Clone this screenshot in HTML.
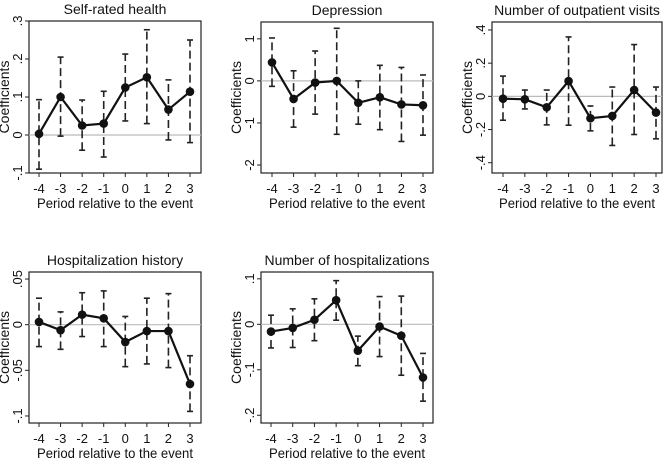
<!DOCTYPE html>
<html><head><meta charset="utf-8"><style>
html,body{margin:0;padding:0;background:#fff;}
svg{display:block;font-family:"Liberation Sans","DejaVu Sans",sans-serif;}
</style></head><body>
<svg id="c" width="669" height="464" viewBox="0 0 669 464"></svg>
<script>
const periods=[-4,-3,-2,-1,0,1,2,3];
const titles=["Self-rated health","Depression","Number of outpatient visits","Hospitalization history","Number of hospitalizations"];
const coefSRH=[0.003,0.1,0.025,0.03,0.125,0.152,0.067,0.114];
const loSRH=[-0.09,-0.003,-0.04,-0.058,0.037,0.03,-0.013,-0.02];
const hiSRH=[0.093,0.205,0.092,0.115,0.213,0.277,0.145,0.25];
const coefDep=[0.44,-0.43,-0.04,0,-0.52,-0.39,-0.56,-0.58];
const loDep=[-0.13,-1.1,-0.79,-1.27,-1.03,-1.16,-1.44,-1.29];
const hiDep=[1.02,0.24,0.71,1.25,0,0.37,0.32,0.14];
const coefOut=[-0.014,-0.018,-0.066,0.092,-0.132,-0.118,0.038,-0.098];
const loOut=[-0.144,-0.076,-0.172,-0.174,-0.208,-0.296,-0.23,-0.256];
const hiOut=[0.122,0.038,0.038,0.358,-0.058,0.056,0.312,0.056];
const coefHH=[0.003,-0.006,0.011,0.007,-0.019,-0.007,-0.007,-0.065];
const loHH=[-0.024,-0.027,-0.013,-0.024,-0.046,-0.043,-0.047,-0.095];
const hiHH=[0.029,0.014,0.035,0.037,0.009,0.029,0.034,-0.034];
const coefNH=[-0.016,-0.008,0.01,0.053,-0.058,-0.005,-0.025,-0.117];
const loNH=[-0.052,-0.051,-0.036,0.009,-0.091,-0.071,-0.112,-0.169];
const hiNH=[0.02,0.034,0.056,0.096,-0.026,0.061,0.062,-0.064];
const ticksSRH=[-0.1,0,0.1,0.2,0.3], tlSRH=["-.1","0",".1",".2",".3"];
const ticksDep=[-2,-1,0,1], tlDep=["-2","-1","0","1"];
const ticksOut=[-0.4,-0.2,0,0.2,0.4], tlOut=["-.4","-.2","0",".2",".4"];
const ticksHH=[-0.1,-0.05,0,0.05], tlHH=["-.1","-.05","0",".05"];
const ticksNH=[-0.2,-0.1,0,0.1], tlNH=["-.2","-.1","0",".1"];

const NS="http://www.w3.org/2000/svg";
const svg=document.getElementById('c');
function mk(tag,attrs,parent){const e=document.createElementNS(NS,tag);for(const k in attrs)e.setAttribute(k,attrs[k]);(parent||svg).appendChild(e);return e;}

const panels=[
 {t:0,box:[29,21,201,173],dom:[-0.1,0.3],x0:39,x1:190,c:coefSRH,lo:loSRH,hi:hiSRH,tk:ticksSRH,tl:tlSRH},
 {t:1,box:[261,22,433,173],dom:[-2.19,1.4],x0:272,x1:423,c:coefDep,lo:loDep,hi:hiDep,tk:ticksDep,tl:tlDep},
 {t:2,box:[492,22,662,173],dom:[-0.462,0.448],x0:503,x1:656,c:coefOut,lo:loOut,hi:hiOut,tk:ticksOut,tl:tlOut},
 {t:3,box:[29,272,201,423],dom:[-0.1077,0.0577],x0:39,x1:190,c:coefHH,lo:loHH,hi:hiHH,tk:ticksHH,tl:tlHH},
 {t:4,box:[261,272,433,423],dom:[-0.217,0.115],x0:271,x1:423,c:coefNH,lo:loNH,hi:hiNH,tk:ticksNH,tl:tlNH}
];
panels.forEach((p)=>{
 const g=mk('g',{});
 
 
 const [L,T,R,B]=p.box;
 const ys=v=>B-(v-p.dom[0])/(p.dom[1]-p.dom[0])*(B-T);
 const xs=i=>p.x0+(p.x1-p.x0)*i/(periods.length-1);
 const cx=(L+R)/2;
 const tt=mk('text',{x:cx,y:T-7,'text-anchor':'middle','font-size':14,fill:'#111'},g);tt.textContent=titles[p.t];
 
 
 mk('rect',{x:L,y:T,width:R-L,height:B-T,fill:'none',stroke:'#222','stroke-width':1.2},g);
 const z=mk('line',{x1:L,x2:R,y1:ys(0),y2:ys(0),stroke:'#bbb','stroke-width':1.2},g);
 
 
 p.tk.forEach((v,i)=>{
  const y=ys(v);
  mk('line',{x1:L-4,x2:L,y1:y,y2:y,stroke:'#222'},g);
  const t=mk('text',{x:L-7,y:y,'text-anchor':'middle','font-size':13,fill:'#111',transform:`rotate(-90 ${L-7} ${y})`},g);
  t.textContent=p.tl[i];
  
  
 });
 const yt=mk('text',{x:L-20,y:(T+B)/2,'text-anchor':'middle','font-size':14,fill:'#111',transform:`rotate(-90 ${L-20} ${(T+B)/2})`},g);
 yt.textContent='Coefficients';
 
 
 periods.forEach((pv,i)=>{
  const x=xs(i);
  mk('line',{x1:x,x2:x,y1:B,y2:B+4,stroke:'#222'},g);
  const t=mk('text',{x:x,y:B+20,'text-anchor':'middle','font-size':13,fill:'#111'},g);
  t.textContent=String(pv);
  
  
  const eb=mk('g',{stroke:'#222','stroke-width':1.6},g);
  
  
  mk('line',{x1:x,x2:x,y1:ys(p.lo[i]),y2:ys(p.hi[i]),'stroke-dasharray':'8,4'},eb);
  mk('line',{x1:x-3,x2:x+3,y1:ys(p.lo[i]),y2:ys(p.lo[i])},eb);
  mk('line',{x1:x-3,x2:x+3,y1:ys(p.hi[i]),y2:ys(p.hi[i])},eb);
 });
 const xt=mk('text',{x:cx,y:B+35,'text-anchor':'middle','font-size':14,fill:'#111',textLength:156,lengthAdjust:'spacingAndGlyphs'},g);
 xt.textContent='Period relative to the event';
 
 
 const pl=mk('polyline',{points:p.c.map((v,i)=>xs(i)+','+ys(v)).join(' '),fill:'none',stroke:'#111','stroke-width':2.2},g);
 
 
 p.c.forEach((v,i)=>{
  const d=mk('circle',{cx:xs(i),cy:ys(v),r:4.3,fill:'#111'},g);
  
  
 });
});
</script>
</body></html>
